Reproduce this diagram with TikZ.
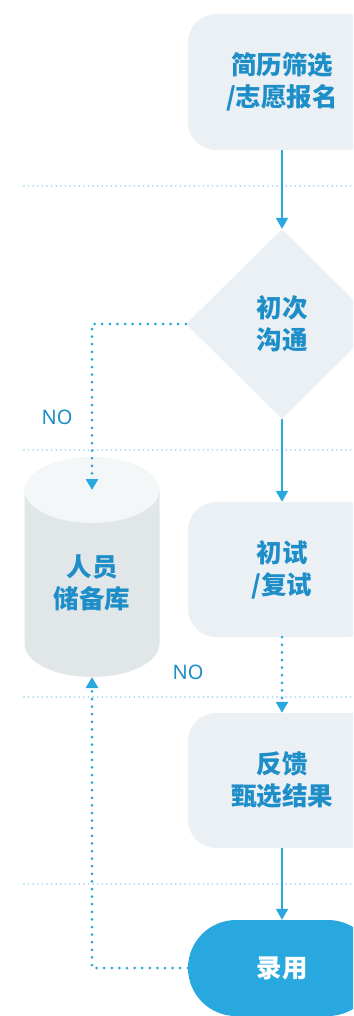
\documentclass[tikz,border=0pt]{standalone}
\usepackage{fontspec}
\newfontfamily\cjk{Noto Sans CJK SC}
\newfontfamily\latin{Noto Sans}
\usetikzlibrary{shapes.geometric,arrows.meta}
\definecolor{txtblue}{HTML}{1E8EC8}
\definecolor{arrblue}{HTML}{29A8E0}
\definecolor{guideblue}{HTML}{86CDEA}
\definecolor{boxfill}{HTML}{EBF0F5}
\definecolor{cyltopfill}{HTML}{F3F7F8}
\definecolor{cylbodyfill}{HTML}{E1E6E9}
\tikzset{
  x=1pt, y=-1pt,
  labeltext/.style={font=\cjk\bfseries\fontsize{25.5}{32}\selectfont, text=txtblue, align=center},
  stepbox/.style={labeltext, fill=boxfill, rounded corners=28pt, minimum width=188pt, minimum height=136pt, inner sep=0pt},
  decision/.style={labeltext, diamond, fill=boxfill, minimum width=192pt, minimum height=190pt, inner sep=0pt},
  endbox/.style={font=\cjk\bfseries\fontsize{25.5}{32}\selectfont, text=white, fill=arrblue, rounded corners=48pt, minimum width=188pt, minimum height=96pt, inner sep=0pt},
  flow/.style={draw=arrblue, line width=2pt, -{Triangle[width=12pt,length=11pt]}},
  dotflow/.style={draw=arrblue, line width=3pt, line cap=round, dash pattern=on 0pt off 7.6pt, -{Triangle[width=12pt,length=11pt,line cap=butt]}},
  guide/.style={draw=guideblue, line width=1.6pt, line cap=round, dash pattern=on 0pt off 4.6pt},
  nolabel/.style={font=\latin\fontsize{20}{22}\selectfont, text=txtblue}
}
\begin{document}
\begin{tikzpicture}
\useasboundingbox (0,0) rectangle (353,1016);
\clip (0,0) rectangle (353,1016);
% guide lines
\coordinate (g1a) at (24,186); \coordinate (g1b) at (356,186);
\coordinate (g2a) at (24,450); \coordinate (g2b) at (356,450);
\coordinate (g3a) at (24,697); \coordinate (g3b) at (356,697);
\coordinate (g4a) at (24,884); \coordinate (g4b) at (356,884);
\draw[guide] (g1a) -- (g1b);
\draw[guide] (g2a) -- (g2b);
\draw[guide] (g3a) -- (g3b);
\draw[guide] (g4a) -- (g4b);
% cylinder
\fill[cylbodyfill] (24.5,490) -- (24.5,644) arc[start angle=180, end angle=0, x radius=67.5, y radius=33] -- (159.5,490) -- cycle;
\fill[cyltopfill] (92,490) ellipse[x radius=67.5, y radius=33];
\node[labeltext] (store) at (92,583) {人员\\储备库};
\coordinate (cyltop) at (92,490);
\coordinate (cylbot) at (92,677);
% nodes
\node[stepbox] (s1) at (282,82) {简历筛选\\/志愿报名};
\node[decision] (d1) at (282,324) {初次\\沟通};
\node[stepbox, minimum height=135pt] (s2) at (282,569.5) {初试\\/复试};
\node[stepbox, minimum height=135pt] (s3) at (282,780.5) {反馈\\甄选结果};
\node[endbox] (s4) at (282,968) {录用};
% connectors
\draw[flow] (s1.south) -- (d1.north);
\draw[flow] (d1.south) -- (s2.north);
\draw[dotflow] (s2.south) -- (s3.north);
\draw[flow] (s3.south) -- (s4.north);
\draw[dotflow] (d1.west) -| (cyltop);
\draw[dotflow] (s4.west) -| (cylbot);
% labels
\node[nolabel] (no1) at (57,417) {NO};
\node[nolabel] (no2) at (188,672) {NO};
\end{tikzpicture}
\end{document}
